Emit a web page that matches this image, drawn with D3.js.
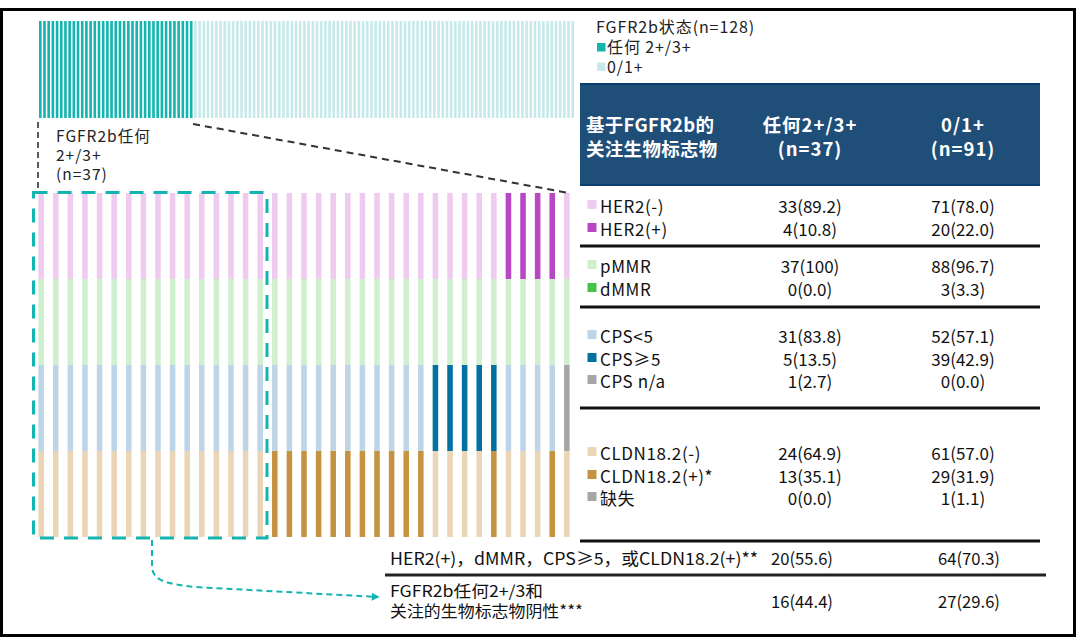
<!DOCTYPE html>
<html>
<head>
<meta charset="utf-8">
<script src="https://cdn.jsdelivr.net/npm/d3@7"></script>
<style>
  html, body { margin: 0; padding: 0; background: #fff; }
  svg { display: block; }
  text { font-family: "Microsoft YaHei", "Noto Sans CJK SC", "Noto Sans", sans-serif; }
</style>
</head>
<body>
<svg id="chart" width="1076" height="638"></svg>
<script>
// ---------------- DATA ----------------
const fgfrGroups = ["任何 2+/3+", "0/1+"];
const fgfrCounts = [37, 91];

// per-patient biomarker status for the 37 FGFR2b 2+/3+ patients (0 = negative/low, 1 = positive/high, 2 = n/a)
const her2Status = [0,0,0,0,0,0,0,0,0,0,0,0,0,0,0,0, 0,0,0,0,0,0,0,0,0,0,0,0,0,0,0,0,1,1,1,1,0];
const mmrStatus  = [0,0,0,0,0,0,0,0,0,0,0,0,0,0,0,0, 0,0,0,0,0,0,0,0,0,0,0,0,0,0,0,0,0,0,0,0,0];
const cpsStatus  = [0,0,0,0,0,0,0,0,0,0,0,0,0,0,0,0, 0,0,0,0,0,0,0,0,0,0,0,1,1,1,1,1,0,0,0,0,2];
const cldnStatus = [0,0,0,0,0,0,0,0,0,0,0,0,0,0,0,0, 1,1,1,1,1,1,1,1,1,1,1,0,0,0,0,1,0,0,0,1,0];
const negativeAllCount = 16;

const biomarkerRows = ["HER2", "MMR", "CPS", "CLDN"];

const tableHeader = ["基于FGFR2b的\n关注生物标志物", "任何2+/3+\n(n=37)", "0/1+\n(n=91)"];

const tableGroups = [
  [ ["HER2(-)", "33(89.2)", "71(78.0)"],
    ["HER2(+)", "4(10.8)", "20(22.0)"] ],
  [ ["pMMR", "37(100)", "88(96.7)"],
    ["dMMR", "0(0.0)", "3(3.3)"] ],
  [ ["CPS<5", "31(83.8)", "52(57.1)"],
    ["CPS≥5", "5(13.5)", "39(42.9)"],
    ["CPS n/a", "1(2.7)", "0(0.0)"] ],
  [ ["CLDN18.2(-)", "24(64.9)", "61(57.0)"],
    ["CLDN18.2(+)*", "13(35.1)", "29(31.9)"],
    ["缺失", "0(0.0)", "1(1.1)"] ]
];

const summaryRows = [
  ["HER2(+)，dMMR，CPS≥5，或CLDN18.2(+)**", "20(55.6)", "64(70.3)"],
  ["FGFR2b任何2+/3和\n关注的生物标志物阴性***", "16(44.4)", "27(29.6)"]
];

const legendTitle = "FGFR2b状态(n=128)";
const zoomLabel = ["FGFR2b任何", "2+/3+", "(n=37)"];

// ---------------- STYLES ----------------
const teal = "#14b4b0", tealLight = "#c7e9ea";
const palettes = {
  HER2: ["#eecbef", "#b947c5", "#a6a6a6"],
  MMR:  ["#cfefcf", "#47c447", "#a6a6a6"],
  CPS:  ["#bdd5e6", "#0271a1", "#a6a6a6"],
  CLDN: ["#ebd5b7", "#c59443", "#a6a6a6"]
};
const swatchColors = [
  [palettes.HER2[0], palettes.HER2[1]],
  [palettes.MMR[0], palettes.MMR[1]],
  [palettes.CPS[0], palettes.CPS[1], palettes.CPS[2]],
  [palettes.CLDN[0], palettes.CLDN[1], "#a6a6a6"]
];

const svg = d3.select("#chart");

// outer frame
svg.append("rect").attr("x", 1.5).attr("y", 9.5).attr("width", 1073).attr("height", 626)
  .attr("fill", "none").attr("stroke", "#000").attr("stroke-width", 3);

// ---------------- TOP STRIP (128 patients) ----------------
const topData = [];
fgfrCounts.forEach((c, g) => { for (let i = 0; i < c; i++) topData.push(g); });
const xTop = d3.scaleBand().domain(d3.range(topData.length)).range([39, 574]).paddingInner(0.38).paddingOuter(0);
const yTop = d3.scaleLinear().domain([0, 1]).range([118, 21]);
svg.append("g").selectAll("rect").data(topData).join("rect")
  .attr("x", (d, i) => xTop(i)).attr("width", xTop.bandwidth())
  .attr("y", yTop(1)).attr("height", yTop(0) - yTop(1))
  .attr("fill", d => d === 0 ? teal : tealLight);

// ---------------- BIOMARKER GRID (37 patients) ----------------
const statusByRow = { HER2: her2Status, MMR: mmrStatus, CPS: cpsStatus, CLDN: cldnStatus };
const xP = d3.scaleBand().domain(d3.range(her2Status.length)).range([34, 574]).paddingInner(0.62).paddingOuter(0.3);
const yR = d3.scaleBand().domain(biomarkerRows).range([193, 537]).padding(0);

const grid = svg.append("g");
biomarkerRows.forEach(r => {
  grid.append("g").selectAll("rect").data(statusByRow[r]).join("rect")
    .attr("x", (d, i) => xP(i)).attr("width", xP.bandwidth())
    .attr("y", yR(r)).attr("height", yR.bandwidth())
    .attr("fill", d => palettes[r][d]);
});

// dashed teal box around the all-negative patients
const boxL = 33.5, boxR = (xP(negativeAllCount - 1) + xP.bandwidth() + xP(negativeAllCount)) / 2 - 0.5;
svg.append("rect").attr("x", boxL).attr("y", 192.5).attr("width", boxR - boxL).attr("height", 345.5)
  .attr("fill", "none").attr("stroke", teal).attr("stroke-width", 3).attr("stroke-dasharray", "14,10");

// black dashed connectors
svg.append("line").attr("x1", 38).attr("y1", 122).attr("x2", 38).attr("y2", 190)
  .attr("stroke", "#333").attr("stroke-width", 1.6).attr("stroke-dasharray", "6,4");
svg.append("line").attr("x1", xTop(fgfrCounts[0]) - 1).attr("y1", 124).attr("x2", 569).attr("y2", 193)
  .attr("stroke", "#333").attr("stroke-width", 2).attr("stroke-dasharray", "7,5");

// zoom label
zoomLabel.forEach((t, i) => svg.append("text").attr("x", 56).attr("y", 142 + i * 19)
  .attr("font-size", 15.5).attr("letter-spacing", 1).attr("fill", "#222").text(t));

// teal arrow
const defs = svg.append("defs");
defs.append("marker").attr("id", "arr").attr("viewBox", "0 0 10 10").attr("refX", 8).attr("refY", 5)
  .attr("markerWidth", 4).attr("markerHeight", 4).attr("orient", "auto")
  .append("path").attr("d", "M0,0 L10,5 L0,10 z").attr("fill", teal);
svg.append("path").attr("d", "M152,540 V566 C152,580 165,584 195,587 L378,597")
  .attr("fill", "none").attr("stroke", teal).attr("stroke-width", 2).attr("stroke-dasharray", "6,4")
  .attr("marker-end", "url(#arr)");

// ---------------- LEGEND ----------------
svg.append("text").attr("x", 596).attr("y", 33).attr("font-size", 16).attr("letter-spacing", 0.9)
  .attr("fill", "#222").text(legendTitle);
fgfrGroups.forEach((g, i) => {
  svg.append("rect").attr("x", 597).attr("y", 43 + i * 19.5).attr("width", 8.5).attr("height", 8.5)
    .attr("fill", i === 0 ? teal : tealLight);
  svg.append("text").attr("x", 607).attr("y", 53 + i * 19.5).attr("font-size", 16).attr("letter-spacing", 0.9)
    .attr("fill", "#222").text(g);
});

// ---------------- TABLE ----------------
const colX = [586, 810, 963];
svg.append("rect").attr("x", 580).attr("y", 83).attr("width", 460).attr("height", 103).attr("fill", "#1f4e79");
svg.append("rect").attr("x", 580).attr("y", 83).attr("width", 460).attr("height", 2).attr("fill", "#0b3f73");
svg.append("rect").attr("x", 580).attr("y", 184).attr("width", 460).attr("height", 2).attr("fill", "#0b3f73");
tableHeader.forEach((h, i) => {
  h.split("\n").forEach((line, j) => svg.append("text")
    .attr("x", colX[i]).attr("y", 132 + j * 23.5)
    .attr("font-size", 18.5).attr("font-weight", "bold").attr("fill", "#fff")
    .attr("letter-spacing", i === 0 ? 0.3 : 1).attr("text-anchor", i === 0 ? "start" : "middle")
    .text(line));
});

const rowBaselines = [[213, 236], [273, 296], [343, 366, 388], [460, 483, 505]];
const sepLines = [246, 307, 408, 541];
tableGroups.forEach((grp, gi) => {
  grp.forEach((row, ri) => {
    const y = rowBaselines[gi][ri];
    svg.append("rect").attr("x", 587.5).attr("y", y - 13).attr("width", 9).attr("height", 9)
      .attr("fill", swatchColors[gi][ri]);
    svg.append("text").attr("x", 600).attr("y", y).attr("font-size", 17).attr("letter-spacing", 0.6)
      .attr("fill", "#111").text(row[0]);
    svg.append("text").attr("x", colX[1]).attr("y", y).attr("font-size", 17).attr("text-anchor", "middle")
      .attr("fill", "#111").text(row[1]);
    svg.append("text").attr("x", colX[2]).attr("y", y).attr("font-size", 17).attr("text-anchor", "middle")
      .attr("fill", "#111").text(row[2]);
  });
  svg.append("rect").attr("x", 580).attr("y", sepLines[gi] - 1.5).attr("width", 460).attr("height", 3).attr("fill", "#111");
});

// summary rows
svg.append("text").attr("x", 390).attr("y", 565).attr("font-size", 17).attr("fill", "#111")
  .attr("textLength", 368).attr("lengthAdjust", "spacingAndGlyphs").text(summaryRows[0][0]);
svg.append("text").attr("x", 802).attr("y", 565).attr("font-size", 17).attr("text-anchor", "middle").attr("fill", "#111")
  .attr("textLength", 62).attr("lengthAdjust", "spacingAndGlyphs").text(summaryRows[0][1]);
svg.append("text").attr("x", 969).attr("y", 565).attr("font-size", 17).attr("text-anchor", "middle").attr("fill", "#111")
  .attr("textLength", 62).attr("lengthAdjust", "spacingAndGlyphs").text(summaryRows[0][2]);
svg.append("rect").attr("x", 385).attr("y", 573.5).attr("width", 661).attr("height", 3).attr("fill", "#222");

const sumLines = summaryRows[1][0].split("\n");
const sumWidths = [153, 193];
sumLines.forEach((line, j) => {
  svg.append("text").attr("x", 390).attr("y", 597 + j * 19.5).attr("font-size", 16).attr("fill", "#111")
    .attr("textLength", sumWidths[j]).attr("lengthAdjust", "spacingAndGlyphs").text(line);
});
svg.append("text").attr("x", 802).attr("y", 608).attr("font-size", 17).attr("text-anchor", "middle").attr("fill", "#111")
  .attr("textLength", 62).attr("lengthAdjust", "spacingAndGlyphs").text(summaryRows[1][1]);
svg.append("text").attr("x", 969).attr("y", 608).attr("font-size", 17).attr("text-anchor", "middle").attr("fill", "#111")
  .attr("textLength", 62).attr("lengthAdjust", "spacingAndGlyphs").text(summaryRows[1][2]);
</script>
</body>
</html>
